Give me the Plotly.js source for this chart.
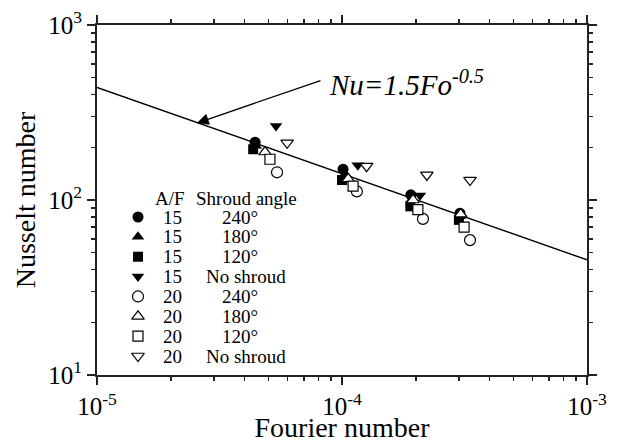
<!DOCTYPE html>
<html>
<head>
<meta charset="utf-8">
<script src="https://cdn.plot.ly/plotly-3.0.1.min.js"></script>
<style>html,body{margin:0;padding:0;background:#fff;}#chart{width:634px;height:443px;}</style>
</head>
<body>
<div id="chart"></div>
<script>
// ---- data ----
const seriesNames = ["15 240°", "15 180°", "15 120°", "15 No shroud", "20 240°", "20 180°", "20 120°", "20 No shroud"];
const afValues = ["15", "15", "15", "15", "20", "20", "20", "20"];
const shroudLabels = ["240°", "180°", "120°", "No shroud", "240°", "180°", "120°", "No shroud"];
const symbols = ["circle", "triangle-up", "square", "triangle-down", "circle", "triangle-up", "square", "triangle-down"];
const filled = [true, true, true, true, false, false, false, false];

const fo_15_240 = [4.42e-5, 1.01e-4, 1.91e-4, 3.03e-4];
const nu_15_240 = [214, 150, 107, 84];
const fo_15_180 = [4.45e-5, 1.03e-4, 1.93e-4, 3.03e-4];
const nu_15_180 = [204, 141, 101, 81];
const fo_15_120 = [4.34e-5, 1.00e-4, 1.90e-4, 3.00e-4];
const nu_15_120 = [195, 130, 92, 77];
const fo_15_none = [5.38e-5, 1.16e-4, 2.08e-4, 3.05e-4];
const nu_15_none = [265, 158, 106, 79];
const fo_20_240 = [5.43e-5, 1.15e-4, 2.14e-4, 3.33e-4];
const nu_20_240 = [144, 112, 78, 59];
const fo_20_180 = [4.85e-5, 1.06e-4, 1.95e-4, 3.05e-4];
const nu_20_180 = [188, 132, 100, 83];
const fo_20_120 = [5.08e-5, 1.11e-4, 2.04e-4, 3.15e-4];
const nu_20_120 = [171, 120, 88, 70];
const fo_20_none = [5.97e-5, 1.26e-4, 2.22e-4, 3.33e-4];
const nu_20_none = [212, 156, 139, 130];

const fitFo = [1e-5, 1e-3];
const fitNu = [440, 45.5];
const fitLabel = "<i>Nu=1.5Fo<sup>-0.5</sup></i>";

const xTickVals = [1e-5, 1e-4, 1e-3];
const xTickText = ["10<sup>-5</sup>", "10<sup>-4</sup>", "10<sup>-3</sup>"];
const yTickVals = [10, 100, 1000];
const yTickText = ["10<sup>1</sup>", "10<sup>2</sup>", "10<sup>3</sup>"];
const xMinorVals = [2e-5,3e-5,4e-5,5e-5,6e-5,7e-5,8e-5,9e-5,2e-4,3e-4,4e-4,5e-4,6e-4,7e-4,8e-4,9e-4];
const yMinorVals = [20,30,40,50,60,70,80,90,200,300,400,500,600,700,800,900];

// ---- layout geometry (pixels) ----
const W = 634, H = 443, ML = 97, MR = 47, MT = 25, MB = 68;
const PW = W - ML - MR, PH = H - MT - MB;
const XR = [-5, -3], YR = [1, 3];
const pxPerDecX = PW / (XR[1] - XR[0]), pxPerDecY = PH / (YR[1] - YR[0]);
const pxToPaperX = px => (px - ML) / PW;
const pxToPaperY = py => 1 - (py - MT) / PH;
const pxToFo = px => Math.pow(10, XR[0] + (px - ML) / pxPerDecX);
const pxToNu = py => Math.pow(10, YR[1] - (py - MT) / pxPerDecY);

const FONT = "Liberation Serif";
const AXC = "#222";
const foList = [fo_15_240, fo_15_180, fo_15_120, fo_15_none, fo_20_240, fo_20_180, fo_20_120, fo_20_none];
const nuList = [nu_15_240, nu_15_180, nu_15_120, nu_15_none, nu_20_240, nu_20_180, nu_20_120, nu_20_none];

function markerStyle(i) {
  return {symbol: symbols[i], size: symbols[i] === "square" ? 10 : 11,
    color: filled[i] ? "#000" : "#fff", line: {color: "#000", width: filled[i] ? 0 : 1.2}};
}

const traces = [];
traces.push({x: fitFo, y: fitNu, mode: "lines", line: {color: "#000", width: 1.4}, showlegend: false, hoverinfo: "skip"});
for (let i = 0; i < 8; i++) {
  traces.push({x: foList[i], y: nuList[i], mode: "markers", name: seriesNames[i], showlegend: false, marker: markerStyle(i)});
}
const legKeyPx = 138, legRow0Px = 217, legStepPx = 19.86, legHeadPx = 198.5;
for (let i = 0; i < 8; i++) {
  traces.push({x: [pxToFo(legKeyPx)], y: [pxToNu(legRow0Px + i * legStepPx)], mode: "markers",
    showlegend: false, hoverinfo: "skip", marker: markerStyle(i)});
}

const annotations = [];
const legFont = {family: FONT, size: 19, color: "#000"};
function legText(px, py, text) {
  annotations.push({xref: "paper", yref: "paper", x: pxToPaperX(px), y: pxToPaperY(py), text: text,
    showarrow: false, font: legFont, xanchor: "center", yanchor: "middle"});
}
legText(170, legHeadPx, "A/F");
legText(246, legHeadPx, "Shroud angle");
for (let i = 0; i < 8; i++) {
  const py = legRow0Px + i * legStepPx;
  legText(172, py, afValues[i]);
  legText(shroudLabels[i] === "No shroud" ? 246 : 240, py, shroudLabels[i]);
}
annotations.push({xref: "x", yref: "y", x: Math.log10(pxToFo(197)), y: Math.log10(pxToNu(123)), axref: "x", ayref: "y",
  ax: Math.log10(pxToFo(322)), ay: Math.log10(pxToNu(80)), text: "", showarrow: true,
  arrowhead: 2, arrowsize: 1.8, arrowwidth: 1.3, arrowcolor: "#000", standoff: 0, startstandoff: 0});
annotations.push({xref: "paper", yref: "paper", x: pxToPaperX(327), y: pxToPaperY(83), text: fitLabel, showarrow: false,
  font: {family: FONT, size: 29, color: "#000"}, xanchor: "left", yanchor: "middle"});

const axisBase = {type: "log", showgrid: false, zeroline: false, showline: true, linecolor: AXC, linewidth: 2,
  mirror: "ticks", ticks: "outside", ticklen: 8, tickwidth: 1.5, tickcolor: AXC, tickmode: "array",
  tickfont: {family: FONT, size: 25, color: "#000"}};
const minorBase = {tickmode: "array", ticks: "outside", ticklen: 4, tickwidth: 1.5, tickcolor: AXC, showgrid: false};

const layout = {
  width: W, height: H,
  margin: {l: ML, r: MR, t: MT, b: MB},
  paper_bgcolor: "#fff", plot_bgcolor: "#fff",
  font: {family: FONT},
  showlegend: false,
  xaxis: Object.assign({}, axisBase, {range: XR, tickvals: xTickVals, ticktext: xTickText,
    minor: Object.assign({}, minorBase, {tickvals: xMinorVals}),
    title: {text: "Fourier number", font: {family: FONT, size: 28, color: "#000"}, standoff: 0}}),
  yaxis: Object.assign({}, axisBase, {range: YR, tickvals: yTickVals, ticktext: yTickText,
    minor: Object.assign({}, minorBase, {tickvals: yMinorVals}),
    title: {text: "Nusselt number", font: {family: FONT, size: 28, color: "#000"}, standoff: 4}}),
  annotations: annotations
};

Plotly.newPlot("chart", traces, layout, {staticPlot: true, displayModeBar: false});
</script>
</body>
</html>
